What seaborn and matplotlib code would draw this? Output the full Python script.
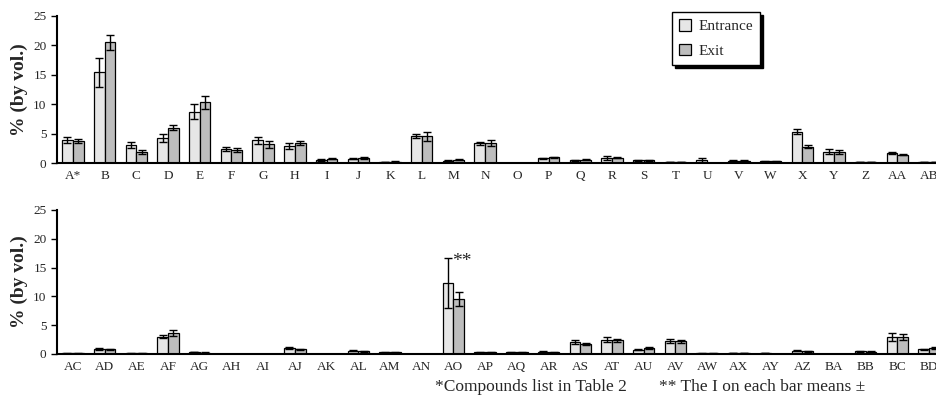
import numpy as np
import pandas as pd
import seaborn as sns
import matplotlib.pyplot as plt
from matplotlib.ticker import MultipleLocator

# compound codes and % (by vol.) at entrance / exit, with +- errors
top_labels = ["A*", "B", "C", "D", "E", "F", "G", "H", "I", "J", "K", "L", "M", "N",
              "O", "P", "Q", "R", "S", "T", "U", "V", "W", "X", "Y", "Z", "AA", "AB"]
top_entrance = [3.9, 15.4, 3.1, 4.2, 8.75, 2.4, 3.9, 2.95, 0.5, 0.7, 0.15, 4.6, 0.4, 3.35,
                0.05, 0.8, 0.45, 0.85, 0.45, 0.15, 0.5, 0.4, 0.3, 5.35, 1.95, 0.2, 1.65, 0.15]
top_entrance_err = [0.5, 2.5, 0.5, 0.7, 1.3, 0.4, 0.6, 0.5, 0.1, 0.1, 0.05, 0.35, 0.1, 0.3,
                    0.02, 0.1, 0.1, 0.3, 0.1, 0.05, 0.3, 0.1, 0.1, 0.5, 0.5, 0.05, 0.15, 0.05]
top_exit = [3.75, 20.5, 1.9, 6.0, 10.3, 2.2, 3.2, 3.35, 0.7, 0.85, 0.25, 4.55, 0.55, 3.4,
            0.05, 0.95, 0.55, 0.9, 0.45, 0.15, 0.05, 0.4, 0.3, 2.8, 1.85, 0.2, 1.4, 0.15]
top_exit_err = [0.4, 1.3, 0.3, 0.4, 1.05, 0.3, 0.6, 0.35, 0.1, 0.1, 0.05, 0.8, 0.1, 0.5,
                0.02, 0.1, 0.1, 0.1, 0.1, 0.05, 0.02, 0.1, 0.1, 0.2, 0.3, 0.05, 0.1, 0.05]

bottom_labels = ["AC", "AD", "AE", "AF", "AG", "AH", "AI", "AJ", "AK", "AL", "AM", "AN", "AO", "AP",
                 "AQ", "AR", "AS", "AT", "AU", "AV", "AW", "AX", "AY", "AZ", "BA", "BB", "BC", "BD"]
bottom_entrance = [0.1, 0.9, 0.1, 3.0, 0.35, 0.05, 0.05, 1.0, 0.05, 0.6, 0.3, 0.05, 12.3, 0.3,
                   0.3, 0.4, 2.1, 2.5, 0.75, 2.3, 0.1, 0.15, 0.2, 0.55, 0.05, 0.5, 3.0, 0.8]
bottom_entrance_err = [0.03, 0.15, 0.03, 0.3, 0.05, 0.02, 0.02, 0.15, 0.02, 0.1, 0.05, 0.02, 4.4, 0.05,
                       0.05, 0.05, 0.3, 0.5, 0.1, 0.35, 0.03, 0.03, 0.05, 0.1, 0.02, 0.1, 0.7, 0.1]
bottom_exit = [0.1, 0.85, 0.1, 3.7, 0.25, 0.05, 0.05, 0.85, 0.05, 0.5, 0.3, 0.05, 9.55, 0.3,
               0.3, 0.3, 1.75, 2.35, 1.1, 2.2, 0.1, 0.2, 0.05, 0.45, 0.05, 0.4, 3.0, 1.1]
bottom_exit_err = [0.03, 0.1, 0.03, 0.5, 0.05, 0.02, 0.02, 0.1, 0.02, 0.1, 0.05, 0.02, 1.3, 0.05,
                   0.05, 0.05, 0.15, 0.2, 0.15, 0.3, 0.03, 0.03, 0.02, 0.1, 0.02, 0.1, 0.5, 0.15]

series = ["Entrance", "Exit"]
colors = {"Entrance": "#e6e6e6", "Exit": "#bdbdbd"}

sns.set_style("white")
plt.rcParams["font.family"] = ["Liberation Serif", "DejaVu Serif"]

fig = plt.figure(figsize=(9.36, 3.96), dpi=100)
# the original figure is cropped on the right, so the axes run past the edge
ax_top = fig.add_axes([57 / 936, (396 - 163) / 396, 888 / 936, 147 / 396])
ax_bot = fig.add_axes([57 / 936, (396 - 354) / 396, 888 / 936, 144 / 396])


def draw_panel(ax, labels, ent, ent_err, ext, ext_err):
    df = pd.DataFrame({
        "compound": labels * 2,
        "series": ["Entrance"] * len(labels) + ["Exit"] * len(labels),
        "value": ent + ext,
    })
    sns.barplot(data=df, x="compound", y="value", hue="series", hue_order=series,
                palette=colors, width=0.68, gap=0, errorbar=None,
                edgecolor="black", linewidth=0.9, legend=False, ax=ax)
    for cont, errs in zip(ax.containers, [ent_err, ext_err]):
        xs = [p.get_x() + p.get_width() / 2 for p in cont.patches]
        hs = [p.get_height() for p in cont.patches]
        ax.errorbar(xs, hs, yerr=errs, fmt="none", ecolor="black",
                    elinewidth=1, capsize=3, capthick=1)
    ax.set_xlim(-0.5, len(labels) - 0.5)
    ax.set_ylim(0, 25)
    ax.yaxis.set_major_locator(MultipleLocator(5))
    ax.set_xlabel("")
    ax.set_ylabel("% (by vol.)", fontsize=14, fontweight="bold", labelpad=4)
    ax.set_xticks(range(len(labels)))
    ax.set_xticklabels(labels, fontsize=9.5)
    ax.set_xticks(np.arange(len(labels)) + 0.5, minor=True)
    ax.tick_params(axis="x", which="major", length=0, pad=5)
    ax.tick_params(axis="x", which="minor", direction="in", length=3, width=1, color="black")
    ax.tick_params(axis="y", direction="out", length=4, width=1, color="black",
                   labelsize=9.5, left=True)
    for side in ["top", "right"]:
        ax.spines[side].set_visible(False)
    for side in ["left", "bottom"]:
        ax.spines[side].set_color("black")
        ax.spines[side].set_linewidth(1.5)


draw_panel(ax_top, top_labels, top_entrance, top_entrance_err, top_exit, top_exit_err)
draw_panel(ax_bot, bottom_labels, bottom_entrance, bottom_entrance_err, bottom_exit, bottom_exit_err)

# "**" marker on the AO entrance error bar
ao = bottom_labels.index("AO")
ao_bar = ax_bot.containers[0].patches[ao]
ax_bot.annotate("**", xy=(ao_bar.get_x() + ao_bar.get_width() / 2,
                          bottom_entrance[ao] + bottom_entrance_err[ao]),
                xytext=(3, -9), textcoords="offset points", fontsize=14,
                ha="left", va="bottom")

handles = [plt.Rectangle((0, 0), 1, 1, facecolor=colors[s], edgecolor="black", linewidth=0.9)
           for s in series]
fig.legend(handles, series, loc="upper left", bbox_to_anchor=(672 / 936, 1 - 12 / 396),
           borderaxespad=0, fontsize=11, frameon=True, fancybox=False,
           shadow={"color": "black", "alpha": 1},
           edgecolor="black", handlelength=0.8, handleheight=0.8, handletextpad=0.5,
           borderpad=0.45, labelspacing=0.7)

fig.text(435 / 936, 1 - 391 / 396, "*Compounds list in Table 2", fontsize=12.5,
         ha="left", va="baseline")
fig.text(659 / 936, 1 - 391 / 396, "** The I on each bar means \u00b1", fontsize=12.5,
         ha="left", va="baseline")

fig.savefig("out.png", dpi=100)
